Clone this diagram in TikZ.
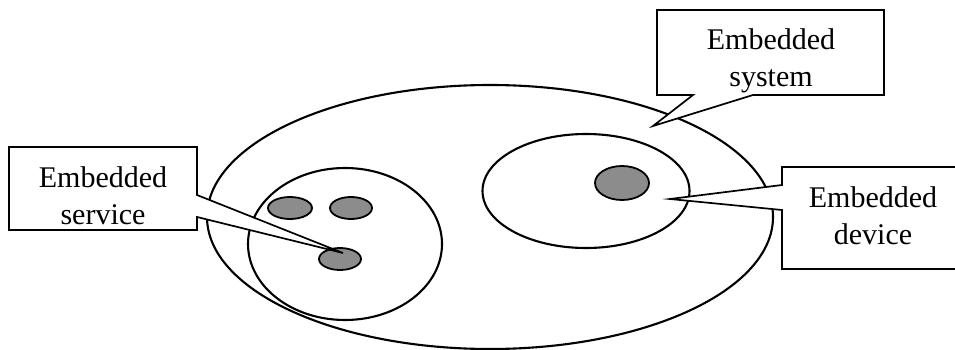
\documentclass[tikz,border=0pt]{standalone}
\usepackage{fontspec}
\setmainfont{Liberation Serif}
\usetikzlibrary{shapes.geometric}
\tikzset{
  ring/.style={ellipse, draw, line width=2.1pt, inner sep=0pt},
  blob/.style={ellipse, draw, line width=1.8pt, fill=black!45, inner sep=0pt},
  callout/.style={draw, line width=1.7pt, fill=white, line join=miter},
  label/.style={font=\fontsize{30}{37}\selectfont, align=center, inner sep=0pt}
}
\begin{document}
\begin{tikzpicture}[x=1pt, y=-1pt]
\useasboundingbox (0,0) rectangle (955,350);
\clip (0,0) rectangle (955,350);
% ellipses
\node[ring, minimum width=566pt, minimum height=264pt] (sys) at (490,217) {};
\node[ring, minimum width=194pt, minimum height=152pt] (svcgroup) at (345,244) {};
\node[ring, minimum width=207pt, minimum height=114pt] (dev) at (586,191) {};
% dots
\node[blob, minimum width=44pt, minimum height=22pt] (d1) at (290,208) {};
\node[blob, minimum width=42pt, minimum height=22pt] (d2) at (351,208) {};
\node[blob, minimum width=42pt, minimum height=22pt] (d3) at (340,259) {};
\node[blob, minimum width=54pt, minimum height=34pt] (d4) at (622,183) {};
% pointer tips
\coordinate (tipsys) at (653,126);
\coordinate (tipdev) at (670,199);
\coordinate (tipsvc) at (343,253);
% callouts
\draw[callout] (657,10) -- (884,10) -- (884,95) -- (753,95) -- (tipsys) -- (693,95) -- (657,95) -- cycle;
\draw[callout] (782,167) -- (965,167) -- (965,269) -- (782,269) -- (782,210) -- (tipdev) -- (782,185) -- cycle;
\draw[callout] (9,147) -- (197,147) -- (197,195) -- (tipsvc) -- (197,217) -- (197,230) -- (9,230) -- cycle;
% texts
\node[label] (tsys) at (771,61) {Embedded\\system};
\node[label] (tdev) at (873,216) {Embedded\\device};
\node[label] (tsvc) at (103,196) {Embedded\\service};
\end{tikzpicture}
\end{document}
